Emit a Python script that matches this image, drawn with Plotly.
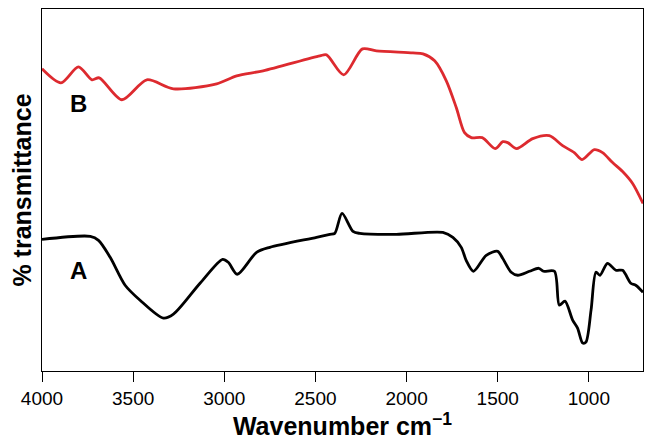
import plotly.graph_objects as go

# Sample B (red) - wavenumber (cm-1) and relative transmittance (arb.)
wn_b = [4000, 3896, 3800, 3726, 3686, 3562, 3425, 3279, 3042, 2932, 2787, 2476, 2439,
        2345, 2242, 2166, 1965, 1910, 1846, 1782, 1727, 1682, 1645, 1585, 1514, 1472,
        1445, 1396, 1308, 1217, 1144, 1080, 1037, 970, 925, 870, 815, 760, 703]
t_b = [303, 289, 305, 292, 294, 272, 292, 283, 288, 296, 301, 316, 317,
       297, 323, 321, 319, 318, 311, 291, 264, 239, 234, 234, 223, 230,
       229, 223, 233, 236, 226, 219, 212, 222, 219, 209, 200, 188, 168]

# Sample A (black)
wn_a = [4000, 3735, 3690, 3626, 3544, 3462, 3334, 3279, 3133, 3009, 2978, 2929, 2823,
        2750, 2494, 2421, 2394, 2354, 2294, 2257, 2056, 1801, 1746, 1700, 1673, 1633,
        1563, 1500, 1473, 1426, 1390, 1326, 1275, 1249, 1189, 1162, 1131, 1089, 1062,
        1034, 1016, 988, 961, 939, 898, 852, 815, 770, 743, 703]
t_a = [132, 135, 131, 114, 86, 71, 53, 57, 88, 112, 109, 97, 119,
       124, 134, 137, 138, 158, 140, 138, 137, 139, 134, 124, 111, 100,
       116, 120, 113, 99, 96, 100, 103, 100, 100, 66, 70, 51, 43,
       28, 29, 61, 99, 96, 108, 101, 101, 88, 86, 79]

x_ticks = [4000, 3500, 3000, 2500, 2000, 1500, 1000]

fig = go.Figure()
fig.add_trace(go.Scatter(x=wn_b, y=t_b, mode="lines",
                         line=dict(color="#dd2a2f", width=2.8, shape="spline", smoothing=0.8),
                         showlegend=False))
fig.add_trace(go.Scatter(x=wn_a, y=t_a, mode="lines",
                         line=dict(color="#000000", width=2.8, shape="spline", smoothing=0.8),
                         showlegend=False))

fig.add_annotation(x=3800, y=268, text="<b>B</b>", showarrow=False,
                   font=dict(family="Liberation Sans, Arial", size=24, color="black"))
fig.add_annotation(x=3800, y=101, text="<b>A</b>", showarrow=False,
                   font=dict(family="Liberation Sans, Arial", size=24, color="black"))

fig.update_layout(
    width=645, height=439,
    margin=dict(l=34, r=10, t=1, b=76),
    plot_bgcolor="white", paper_bgcolor="white",
    font=dict(family="Liberation Sans, Arial", color="black"),
    xaxis=dict(range=[4000, 703], tickvals=x_ticks, ticktext=[str(v) for v in x_ticks],
               ticks="outside", ticklen=10, tickwidth=1.2, tickcolor="black",
               showline=True, linecolor="black", linewidth=1.2, mirror=True,
               showgrid=False, zeroline=False, automargin=False,
               tickfont=dict(size=19, color="black"),
               title=dict(text="<b>Wavenumber cm<sup>−1</sup></b>",
                          font=dict(size=25, color="black"), standoff=8)),
    yaxis=dict(range=[0, 363], showticklabels=False, ticks="",
               showline=True, linecolor="black", linewidth=1.2, mirror=True,
               showgrid=False, zeroline=False, automargin=False,
               title=dict(text="<b>% transmittance</b>",
                          font=dict(size=25, color="black"), standoff=9)),
)

fig.write_html("out.html")
